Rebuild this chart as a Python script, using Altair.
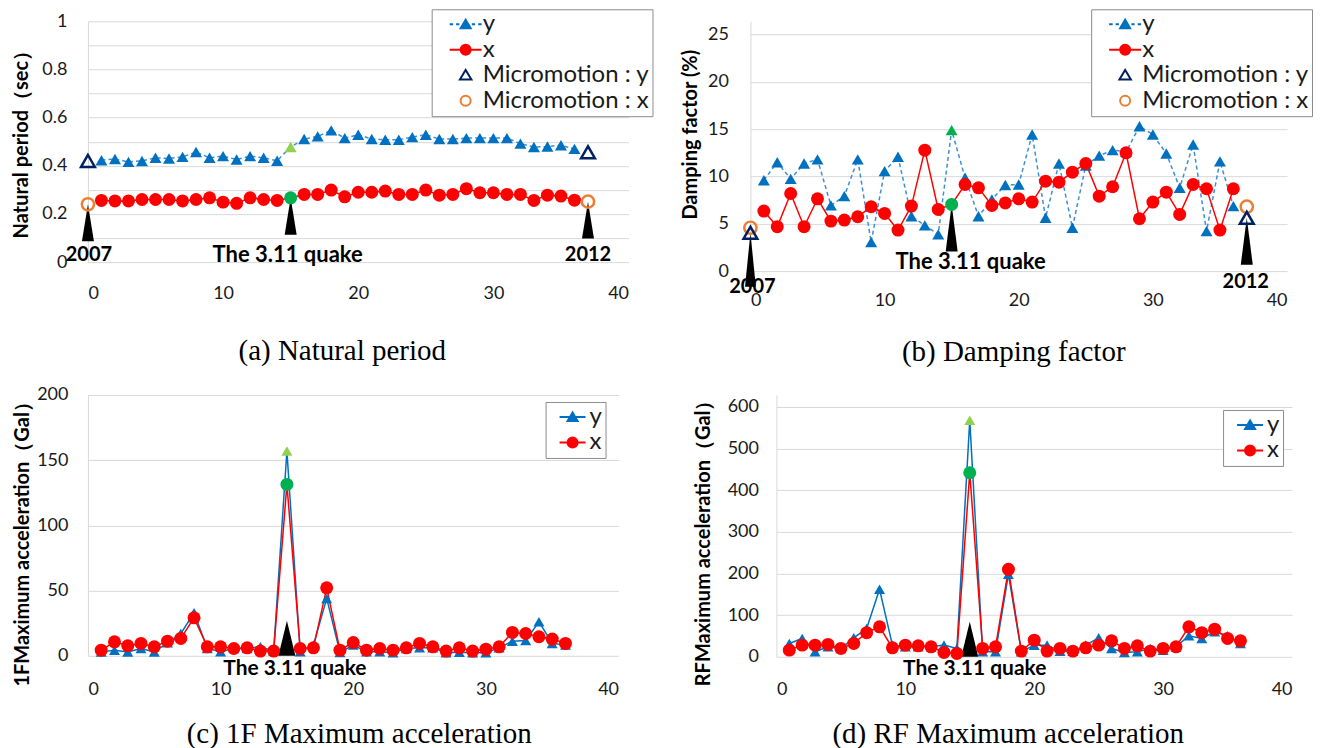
import altair as alt
import pandas as pd

# ---------------- data ----------------
idx = list(range(1, 37))
quake_i = 15
mm_i = [0, 37]

a_y = [0.423, 0.428, 0.416, 0.420, 0.433, 0.430, 0.437, 0.457, 0.433, 0.440,
       0.426, 0.440, 0.433, 0.421, 0.478, 0.511, 0.522, 0.547, 0.515, 0.529,
       0.511, 0.508, 0.508, 0.519, 0.529, 0.511, 0.511, 0.515, 0.515, 0.515,
       0.515, 0.492, 0.478, 0.480, 0.485, 0.470]
a_x = [0.256, 0.254, 0.254, 0.260, 0.260, 0.260, 0.254, 0.260, 0.267, 0.249,
       0.244, 0.267, 0.260, 0.256, 0.267, 0.281, 0.281, 0.299, 0.271, 0.290,
       0.290, 0.295, 0.281, 0.281, 0.299, 0.278, 0.281, 0.305, 0.288, 0.288,
       0.281, 0.281, 0.256, 0.278, 0.274, 0.257]
a_mm_y = [0.42, 0.456]
a_mm_x = [0.24, 0.251]

b_y = [9.6, 11.5, 9.75, 11.37, 11.8, 6.94, 7.92, 11.8, 3.06, 10.56,
       12.08, 5.8, 4.83, 3.88, 14.9, 9.86, 5.8, 7.57, 9.1, 9.15,
       14.43, 5.63, 11.37, 4.58, 11.16, 12.2, 12.78, 12.6, 15.31, 14.43,
       12.43, 8.8, 13.38, 4.22, 11.6, 6.87]
b_x = [6.34, 4.69, 8.2, 4.69, 7.64, 5.28, 5.39, 5.74, 6.8, 6.09,
       4.33, 6.87, 12.78, 6.52, 7.04, 9.15, 8.8, 6.94, 7.2, 7.64,
       7.29, 9.5, 9.4, 10.45, 11.37, 7.92, 8.91, 12.5, 5.53, 7.29,
       8.34, 5.99, 9.15, 8.7, 4.33, 8.7]
b_mm_y = [4.05, 5.63]
b_mm_x = [4.58, 6.8]

c_y = [3.0, 4.3, 3.0, 5.6, 3.0, 10.0, 17.0, 33.0, 5.6, 3.1,
       5.6, 5.6, 6.9, 3.6, 157.0, 3.1, 8.2, 44.0, 2.6, 8.2,
       3.1, 3.1, 2.3, 5.6, 6.1, 6.1, 2.3, 2.8, 2.3, 2.3,
       6.1, 11.2, 11.7, 26.1, 9.5, 8.2]
c_x = [4.3, 10.7, 7.7, 9.5, 6.9, 11.2, 13.3, 29.1, 6.9, 6.9,
       5.6, 6.1, 3.6, 3.6, 131.4, 5.6, 6.1, 52.1, 4.3, 10.2,
       4.3, 5.6, 4.3, 6.1, 9.5, 6.9, 3.6, 6.1, 3.6, 5.1,
       6.9, 17.9, 17.1, 14.6, 12.8, 9.5]

d_y = [32, 44, 12, 24, 20, 45.6, 68, 162, 28, 24,
       24, 24, 28, 20, 568, 12, 12, 198, 12, 28,
       28, 13.6, 13.6, 28, 45.6, 20, 10.4, 12, 20, 16,
       24, 50.4, 44, 60, 50.4, 32]
d_x = [16, 28, 28, 29.6, 20, 32, 58, 72, 21.6, 28,
       26.4, 24, 10.4, 8, 442, 20, 24, 210, 13.6, 40,
       13.6, 20, 13.6, 21.6, 28, 38.4, 20, 26.4, 13.6, 20,
       24, 72, 58, 66.4, 44, 38.4]

x_ticks = [0, 10, 20, 30, 40]
a_ticks = [0, 0.1, 0.2, 0.3, 0.4, 0.5, 0.6, 0.7, 0.8, 0.9, 1.0]
b_ticks = [0, 5, 10, 15, 20, 25]
c_ticks = [0, 50, 100, 150, 200]
d_ticks = [0, 100, 200, 300, 400, 500, 600]

legend4 = ["y", "x", "Micromotion : y", "Micromotion : x"]
legend2 = ["y", "x"]
ann_i = [0, 15, 37]
ann_text = ["2007", "The 3.11 quake", "2012"]
y_titles = ["Natural period\uff08sec\uff09", "Damping factor (%)",
            "1FMaximum acceleration\uff08Gal\uff09", "RFMaximum acceleration\uff08Gal\uff09"]
captions = ["(a) Natural period", "(b) Damping factor",
            "(c) 1F Maximum acceleration", "(d) RF Maximum acceleration"]

# ---------------- styles ----------------
FONT = "Lato"
SERIF = "Liberation Serif"
TXT = "#1a1a1a"
GRID = "#d9d9d9"
BLUE = "#0070C0"
BLUE_LINE = "#3d8fd6"
RED = "#FF0000"
GREEN = "#00B050"
LGREEN = "#92D050"
NAVY = "#002060"
ORANGE = "#ED7D31"

LEG_Y_DASH = "M-3.2,0H-2.5M-1.9,0H-1.25M1.25,0H1.9M2.5,0H3.2M-1,0.8L0,-0.9L1,0.8Z"
LEG_X_LINE = "M-3.2,0H-1M1,0H3.2M-1,0A1,1,0,1,1,1,0A1,1,0,1,1,-1,0Z"
LEG_MM_Y = "M-1.15,0.85L0,-1.05L1.15,0.85Z"
LEG_Y_SOLID = "M-2.6,0H2.6M-1,0.8L0,-0.9L1,0.8Z"
LEG_X_SOLID = "M-2.6,0H-1M1,0H2.6M-1,0A1,1,0,1,1,1,0A1,1,0,1,1,-1,0Z"


def spike_down(hw):
    return "M0,0L%.3f,2L-%.3f,2Z" % (hw, hw)


SPIKE_UP = "M-0.486,0L0,-2L0.486,0Z"


def make_panel(cfg):
    X = alt.X("i:Q", scale=alt.Scale(domain=[0, 40], nice=False, zero=False),
              axis=alt.Axis(values=x_ticks, grid=False, domain=False, ticks=False, tickSize=0,
                            labelPadding=cfg["xpad"], labelFont=FONT, labelFontSize=18,
                            labelColor=TXT, title=None))
    ax = dict(values=cfg["ticks"], grid=True, gridColor=GRID, gridWidth=1,
              domain=True, domainColor=GRID, domainWidth=1, ticks=False, tickSize=0,
              labelPadding=cfg["ypad"], labelFont=FONT, labelFontSize=18, labelColor=TXT,
              title=cfg["ytitle"], titleFont=FONT, titleFontSize=cfg["tfs"],
              titleFontWeight="bold", titleColor="black", titlePadding=10,
              titleY=cfg["ty"], minExtent=cfg["ext"], maxExtent=cfg["ext"])
    if cfg.get("lexpr"):
        ax["labelExpr"] = cfg["lexpr"]
    Y = alt.Y("v:Q", scale=alt.Scale(domain=cfg["ydom"], nice=False, zero=False),
              axis=alt.Axis(**ax))

    blue = pd.DataFrame({"i": idx, "v": cfg["y"]})
    red = pd.DataFrame({"i": idx, "v": cfg["x"]})

    layers = []
    line_kw = dict(color=BLUE_LINE if cfg["dashed"] else BLUE, strokeWidth=1.5)
    if cfg["dashed"]:
        line_kw["strokeDash"] = [4, 3]
    layers.append(alt.Chart(blue).mark_line(**line_kw).encode(x=X, y=Y))
    layers.append(alt.Chart(red).mark_line(color=RED, strokeWidth=1.5).encode(x=X, y=Y))

    for (si, sv, shape, size) in cfg["spikes"]:
        sdf = pd.DataFrame({"i": [si], "v": [sv]})
        layers.append(alt.Chart(sdf).mark_point(shape=shape, size=size, filled=True,
                                                color="black", opacity=1, strokeWidth=0)
                      .encode(x=X, y=Y))

    layers.append(alt.Chart(blue).transform_filter(alt.datum.i != quake_i)
                  .mark_point(shape="triangle-up", filled=True, size=cfg["tsize"],
                              color=BLUE, opacity=1).encode(x=X, y=Y))
    layers.append(alt.Chart(red).transform_filter(alt.datum.i != quake_i)
                  .mark_point(shape="circle", filled=True, size=cfg["csize"],
                              color=RED, opacity=1).encode(x=X, y=Y))
    layers.append(alt.Chart(blue).transform_filter(alt.datum.i == quake_i)
                  .mark_point(shape="triangle-up", filled=True, size=cfg["tsize"],
                              color=cfg["qtri"], opacity=1).encode(x=X, y=Y))
    layers.append(alt.Chart(red).transform_filter(alt.datum.i == quake_i)
                  .mark_point(shape="circle", filled=True, size=cfg["csize"],
                              color=GREEN, opacity=1).encode(x=X, y=Y))

    if cfg.get("mm_y"):
        mmy = pd.DataFrame({"i": mm_i, "v": cfg["mm_y"]})
        mmx = pd.DataFrame({"i": mm_i, "v": cfg["mm_x"]})
        layers.append(alt.Chart(mmx).mark_point(shape="circle", filled=False, size=150,
                                                color=ORANGE, strokeWidth=2.5, opacity=1)
                      .encode(x=X, y=Y))
        layers.append(alt.Chart(mmy).mark_point(shape="triangle-up", filled=False, size=190,
                                                color=NAVY, strokeWidth=2.5, opacity=1)
                      .encode(x=X, y=Y))

    # legend-only layer (no marks drawn: data filtered out)
    lg = cfg["legend"]
    leg = alt.Legend(orient="none", legendX=lg["x"], legendY=lg["y"], title=None,
                     direction="vertical", labelFont=FONT, labelFontSize=24,
                     labelColor=TXT, labelLimit=400, symbolSize=100,
                     symbolStrokeWidth=2, symbolOffset=lg["so"], labelOffset=lg["lo"],
                     padding=lg["pad"], rowPadding=1.5, strokeColor="#8c8c8c",
                     fillColor="white")
    ldf = pd.DataFrame({"i": [0] * len(lg["labels"]), "v": [0] * len(lg["labels"]),
                        "s": lg["labels"]})
    layers.append(alt.Chart(ldf).transform_filter("false")
                  .mark_point(filled=False, opacity=1, strokeWidth=2)
                  .encode(x=X, y=Y,
                          shape=alt.Shape("s:N", scale=alt.Scale(domain=lg["labels"], range=lg["shapes"]), legend=leg),
                          fill=alt.Fill("s:N", scale=alt.Scale(domain=lg["labels"], range=lg["fills"]), legend=leg),
                          stroke=alt.Stroke("s:N", scale=alt.Scale(domain=lg["labels"], range=lg["strokes"]), legend=leg)))

    for (ti, text, dx, dy, fs) in cfg["texts"]:
        tdf = pd.DataFrame({"i": [ti], "v": [0], "t": [text]})
        layers.append(alt.Chart(tdf).mark_text(font=FONT, fontWeight="bold", fontSize=fs,
                                               color="black", dx=dx, dy=dy,
                                               align="center", baseline="middle")
                      .encode(x=X, y=Y, text="t:N"))

    return alt.layer(*layers).properties(
        width=cfg["w"], height=cfg["h"],
        title=alt.TitleParams(text=cfg["caption"], orient="bottom", anchor="middle",
                              frame="group", font=SERIF, fontSize=29, fontWeight="normal",
                              color="black", offset=cfg["coff"], dx=cfg["cdx"]))


leg4_common = dict(labels=legend4,
                   shapes=[LEG_Y_DASH, LEG_X_LINE, LEG_MM_Y, "circle"],
                   fills=[BLUE, RED, "transparent", "transparent"],
                   strokes=[BLUE, RED, NAVY, ORANGE], so=19, lo=5, pad=3)
leg2_common = dict(labels=legend2, shapes=[LEG_Y_SOLID, LEG_X_SOLID],
                   fills=[BLUE, RED], strokes=[BLUE, RED], so=12, lo=5, pad=3)

pa = make_panel(dict(
    y=a_y, x=a_x, mm_y=a_mm_y, mm_x=a_mm_x, dashed=True, w=541, h=241,
    ydom=[0, 1], ticks=a_ticks,
    lexpr="round(datum.value*10) % 2 == 0 ? format(datum.value, '~g') : ''",
    ytitle=y_titles[0], tfs=20, ty=118, ext=46, ypad=21, xpad=22, tsize=144, csize=169,
    qtri=LGREEN,
    spikes=[(ann_i[0], a_mm_x[0], spike_down(0.324), 1369),
            (ann_i[1], a_x[quake_i - 1], spike_down(0.324), 1369),
            (ann_i[2], a_mm_x[1], spike_down(0.324), 1369)],
    texts=[(ann_i[0], ann_text[0], 1, -7, 20), (ann_i[1], ann_text[1], -3, -7, 22),
           (ann_i[2], ann_text[2], 0, -7, 20)],
    legend=dict(x=344, y=-12, **leg4_common),
    caption=captions[0], coff=35, cdx=-16))

pb = make_panel(dict(
    y=b_y, x=b_x, mm_y=b_mm_y, mm_x=b_mm_x, dashed=True, w=537, h=250,
    ydom=[0, 26.4], ticks=b_ticks,
    ytitle=y_titles[1], tfs=20, ty=113, ext=40, ypad=22, xpad=20, tsize=144, csize=169,
    qtri=GREEN,
    spikes=[(ann_i[0], b_mm_y[0], spike_down(0.2), 2916),
            (ann_i[1], b_x[quake_i - 1], spike_down(0.255), 2209),
            (ann_i[2], b_mm_y[1], spike_down(0.255), 2209)],
    texts=[(ann_i[0], ann_text[0], 2, 16, 20), (ann_i[1], ann_text[1], 19, -9, 22),
           (ann_i[2], ann_text[2], -1, 11, 20)],
    legend=dict(x=341, y=-12, **leg4_common),
    caption=captions[1], coff=29, cdx=-5))

pc = make_panel(dict(
    y=c_y, x=c_x, dashed=False, w=531, h=261,
    ydom=[0, 200], ticks=c_ticks,
    ytitle=y_titles[2], tfs=20, ty=144, ext=45, ypad=20, xpad=25, tsize=121, csize=169,
    qtri=LGREEN,
    spikes=[(ann_i[1], 0, SPIKE_UP, 1225)],
    texts=[(ann_i[1], ann_text[1], 8, 13, 21)],
    legend=dict(x=458, y=7, **leg2_common),
    caption=captions[2], coff=21, cdx=6))

pd_ = make_panel(dict(
    y=d_y, x=d_x, dashed=False, w=516, h=262,
    ydom=[0, 628.8], ticks=d_ticks,
    ytitle=y_titles[3], tfs=20, ty=143, ext=53, ypad=18, xpad=24, tsize=121, csize=169,
    qtri=LGREEN,
    spikes=[(ann_i[1], 0, SPIKE_UP, 1225)],
    texts=[(ann_i[1], ann_text[1], 5, 12, 21)],
    legend=dict(x=447, y=15, **leg2_common),
    caption=captions[3], coff=21, cdx=-26))

indep = dict(shape="independent", fill="independent", stroke="independent")

row1 = alt.hconcat(pa, pb, spacing=122, bounds="flush").resolve_scale(**indep)
row2 = alt.hconcat(pc, pd_, spacing=158, bounds="flush").resolve_scale(**indep)

chart = alt.vconcat(row1, row2, spacing=19).resolve_scale(**indep).properties(
    padding={"left": 4, "top": 0, "right": 0, "bottom": 0},
    background="white",
).configure_view(stroke=None)

chart.save("out.html", embed_options={"renderer": "svg", "actions": False})
